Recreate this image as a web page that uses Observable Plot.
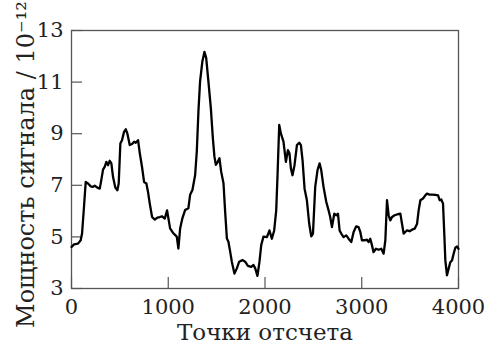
<!DOCTYPE html>
<html>
<head>
<meta charset="utf-8">
<script src="https://cdn.jsdelivr.net/npm/d3@7"></script>
<script src="https://cdn.jsdelivr.net/npm/@observablehq/plot@0.6"></script>
<style>
  html, body { margin: 0; padding: 0; background: #fff; }
  #chart svg { display: block; }
</style>
</head>
<body>
<div id="chart"></div>
<script>
// Sample index (0…4000) and measured signal power (×10⁻¹²)
const samples = [
  0, 26, 67, 95, 109, 129, 147, 171, 199, 222, 240, 267, 292, 308, 326, 343, 360, 378, 395, 412,
  429, 453, 474, 488, 505, 522, 543, 561, 577, 602, 626, 647, 664, 688, 706, 729, 750, 774, 791, 809,
  833, 861, 888, 913, 936, 964, 988, 1019, 1053, 1088, 1105, 1123, 1146, 1174, 1208, 1226, 1250, 1278, 1295, 1312,
  1329, 1353, 1374, 1392, 1415, 1440, 1461, 1477, 1492, 1513, 1529, 1547, 1571, 1588, 1606, 1622, 1640, 1657, 1684, 1709,
  1733, 1767, 1795, 1823, 1857, 1881, 1899, 1922, 1943, 1961, 1984, 2020, 2046, 2071, 2095, 2116, 2129, 2147, 2164, 2191,
  2216, 2237, 2253, 2268, 2284, 2305, 2330, 2354, 2371, 2388, 2409, 2433, 2457, 2478, 2496, 2519, 2543, 2564, 2581, 2605,
  2633, 2657, 2674, 2692, 2716, 2737, 2754, 2771, 2788, 2812, 2840, 2864, 2892, 2916, 2943, 2967, 2985, 3002, 3029, 3054,
  3071, 3088, 3106, 3122, 3147, 3174, 3202, 3226, 3244, 3261, 3278, 3295, 3313, 3340, 3375, 3399, 3416, 3433, 3450, 3468,
  3495, 3520, 3547, 3572, 3588, 3606, 3633, 3657, 3675, 3699, 3727, 3761, 3789, 3805, 3822, 3840, 3853, 3864, 3881, 3898,
  3915, 3933, 3950, 3967, 3985, 4000
];
const power = [
  4.61, 4.71, 4.74, 4.87, 5.13, 6.16, 7.13, 7.07, 6.96, 6.94, 6.99, 6.91, 6.87, 7.20, 7.61, 7.71, 7.91, 7.78, 7.95, 7.85,
  7.33, 6.91, 6.81, 7.07, 8.62, 8.75, 9.07, 9.17, 9.01, 8.56, 8.60, 8.69, 8.65, 8.75, 8.24, 7.71, 7.13, 7.07, 6.74, 6.29,
  5.77, 5.67, 5.75, 5.77, 5.80, 5.71, 6.03, 5.33, 5.14, 5.01, 4.55, 5.33, 5.72, 6.04, 6.11, 6.63, 6.82, 7.40, 8.31, 9.87,
  11.03, 11.81, 12.17, 11.94, 11.03, 10.00, 8.83, 8.12, 7.79, 7.92, 8.05, 7.53, 7.08, 5.98, 4.94, 4.81, 4.43, 4.04, 3.58, 3.78,
  4.04, 4.10, 4.04, 3.88, 3.84, 3.91, 3.78, 3.49, 4.04, 4.68, 5.01, 4.99, 5.25, 4.93, 5.25, 6.03, 7.33, 9.34, 9.01, 8.69,
  7.91, 8.36, 8.24, 7.65, 7.39, 7.78, 8.56, 8.65, 8.56, 7.98, 6.87, 6.42, 5.51, 5.02, 5.13, 6.94, 7.59, 7.85, 7.59, 6.94,
  6.36, 6.03, 5.77, 5.38, 5.90, 5.84, 5.90, 5.25, 5.13, 4.99, 5.06, 4.93, 4.80, 5.19, 5.41, 5.38, 5.19, 4.87, 4.87, 4.89,
  4.80, 4.93, 4.67, 4.41, 4.54, 4.50, 4.54, 4.35, 4.87, 6.42, 5.84, 5.64, 5.77, 5.84, 5.88, 5.90, 5.51, 5.13, 5.19, 5.25,
  5.22, 5.28, 5.32, 5.51, 6.03, 6.42, 6.49, 6.61, 6.68, 6.64, 6.64, 6.63, 6.61, 6.42, 6.45, 6.29, 5.13, 4.09, 3.51, 3.77,
  4.02, 4.09, 4.35, 4.58, 4.63, 4.54
];

const xTicks = [0, 1000, 2000, 3000, 4000];
const yTicks = [3, 5, 7, 9, 11, 13];

const xTitle = "Точки отсчета";
const yTitle = "Мощность сигнала / 10⁻¹²";

const series = samples.map((s, i) => ({sample: s, power: power[i]}));

const font = "'DejaVu Serif', 'Liberation Serif', serif";

// Frame geometry (pixels)
const W = 489, H = 348, mL = 71, mR = 31, mT = 30, mB = 60;
const innerW = W - mL - mR, innerH = H - mT - mB;
const tickLen = 11;

const chart = Plot.plot({
  width: W,
  height: H,
  marginLeft: mL,
  marginRight: mR,
  marginTop: mT,
  marginBottom: mB,
  style: {fontFamily: font, background: "#fff", color: "#222"},
  x: {domain: [0, 4000]},
  y: {domain: [3, 13]},
  marks: [
    Plot.frame({stroke: "#555", strokeWidth: 1.3}),
    // inward tick marks along the bottom and left edges
    Plot.tickX(xTicks, {x: d => d, stroke: "#555", strokeWidth: 1.2, insetTop: innerH - tickLen}),
    Plot.tickY(yTicks, {y: d => d, stroke: "#555", strokeWidth: 1.2, insetRight: innerW - tickLen}),
    Plot.axisX(xTicks, {
      anchor: "bottom", tickSize: 0, tickPadding: 11, fontSize: 21,
      tickFormat: d => String(d), fill: "#222", label: null
    }),
    Plot.axisY(yTicks, {
      anchor: "left", tickSize: 0, tickPadding: 8, fontSize: 21,
      tickFormat: d => String(d), fill: "#222", label: null
    }),
    Plot.line(series, {
      x: "sample", y: "power",
      stroke: "#000", strokeWidth: 2.3, strokeLinejoin: "round"
    }),
    Plot.text([xTitle], {
      text: d => d, frameAnchor: "bottom", lineAnchor: "middle",
      dy: 44, fontSize: 23, fill: "#222"
    }),
    Plot.text([yTitle], {
      text: d => d, frameAnchor: "left", textAnchor: "middle", lineAnchor: "middle",
      rotate: -90, dx: -45, dy: 5, fontSize: 24, fill: "#222"
    })
  ]
});

document.getElementById("chart").appendChild(chart);
</script>
</body>
</html>
